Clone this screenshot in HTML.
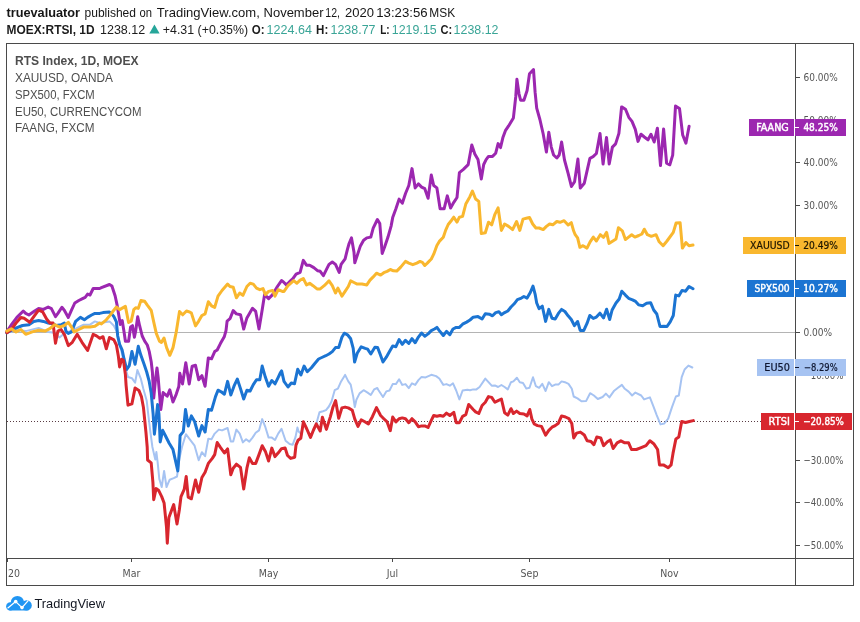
<!DOCTYPE html><html><head><meta charset="utf-8"><title>MOEX:RTSI chart</title><style>
html,body{margin:0;padding:0;background:#fff;width:860px;height:622px;overflow:hidden}
svg{position:absolute;left:0;top:0;display:block}
text{white-space:pre}
</style></head><body>
<svg width="860" height="622" viewBox="0 0 860 622">
<rect x="0" y="0" width="860" height="622" fill="#fff"/>
<text x="6.5" y="17" font-family='"Liberation Sans", Arial, sans-serif' font-size="12.2" font-weight="bold" fill="#161616" text-anchor="start" textLength="73.5" lengthAdjust="spacingAndGlyphs">truevaluator</text>
<text x="84.5" y="17" font-family='"Liberation Sans", Arial, sans-serif' font-size="12.2" font-weight="normal" fill="#161616" text-anchor="start" textLength="51.5" lengthAdjust="spacingAndGlyphs">published</text>
<text x="139.5" y="17" font-family='"Liberation Sans", Arial, sans-serif' font-size="12.2" font-weight="normal" fill="#161616" text-anchor="start" textLength="12.5" lengthAdjust="spacingAndGlyphs">on</text>
<text x="156.8" y="17" font-family='"Liberation Sans", Arial, sans-serif' font-size="12.2" font-weight="normal" fill="#161616" text-anchor="start" textLength="103.0" lengthAdjust="spacingAndGlyphs">TradingView.com,</text>
<text x="263.5" y="17" font-family='"Liberation Sans", Arial, sans-serif' font-size="12.2" font-weight="normal" fill="#161616" text-anchor="start" textLength="60.0" lengthAdjust="spacingAndGlyphs">November</text>
<text x="325.3" y="17" font-family='"Liberation Sans", Arial, sans-serif' font-size="12.2" font-weight="normal" fill="#161616" text-anchor="start" textLength="14.6" lengthAdjust="spacingAndGlyphs">12,</text>
<text x="345.0" y="17" font-family='"Liberation Sans", Arial, sans-serif' font-size="12.2" font-weight="normal" fill="#161616" text-anchor="start" textLength="29.0" lengthAdjust="spacingAndGlyphs">2020</text>
<text x="376.3" y="17" font-family='"Liberation Sans", Arial, sans-serif' font-size="12.2" font-weight="normal" fill="#161616" text-anchor="start" textLength="51.3" lengthAdjust="spacingAndGlyphs">13:23:56</text>
<text x="429.3" y="17" font-family='"Liberation Sans", Arial, sans-serif' font-size="12.2" font-weight="normal" fill="#161616" text-anchor="start" textLength="25.8" lengthAdjust="spacingAndGlyphs">MSK</text>
<text x="6.5" y="34" font-family='"Liberation Sans", Arial, sans-serif' font-size="12.2" font-weight="bold" fill="#1c1c1c" text-anchor="start" textLength="88" lengthAdjust="spacingAndGlyphs">MOEX:RTSI, 1D</text>
<text x="100" y="34" font-family='"Liberation Sans", Arial, sans-serif' font-size="12.2" font-weight="normal" fill="#1c1c1c" text-anchor="start" textLength="45.2" lengthAdjust="spacingAndGlyphs">1238.12</text>
<polygon points="149.3,33.4 159.6,33.4 154.45,24.4" fill="#26a69a"/>
<text x="162.8" y="34" font-family='"Liberation Sans", Arial, sans-serif' font-size="12.2" font-weight="normal" fill="#1c1c1c" text-anchor="start" textLength="85.3" lengthAdjust="spacingAndGlyphs">+4.31 (+0.35%)</text>
<text x="251.7" y="34" font-family='"Liberation Sans", Arial, sans-serif' font-size="12.2" font-weight="bold" fill="#1c1c1c" text-anchor="start" textLength="12.8" lengthAdjust="spacingAndGlyphs">O:</text>
<text x="266.6" y="34" font-family='"Liberation Sans", Arial, sans-serif' font-size="12.2" font-weight="normal" fill="#3aa597" text-anchor="start" textLength="45.3" lengthAdjust="spacingAndGlyphs">1224.64</text>
<text x="316.1" y="34" font-family='"Liberation Sans", Arial, sans-serif' font-size="12.2" font-weight="bold" fill="#1c1c1c" text-anchor="start" textLength="12.2" lengthAdjust="spacingAndGlyphs">H:</text>
<text x="330.5" y="34" font-family='"Liberation Sans", Arial, sans-serif' font-size="12.2" font-weight="normal" fill="#3aa597" text-anchor="start" textLength="45" lengthAdjust="spacingAndGlyphs">1238.77</text>
<text x="380.3" y="34" font-family='"Liberation Sans", Arial, sans-serif' font-size="12.2" font-weight="bold" fill="#1c1c1c" text-anchor="start" textLength="9.4" lengthAdjust="spacingAndGlyphs">L:</text>
<text x="391.8" y="34" font-family='"Liberation Sans", Arial, sans-serif' font-size="12.2" font-weight="normal" fill="#3aa597" text-anchor="start" textLength="44.9" lengthAdjust="spacingAndGlyphs">1219.15</text>
<text x="440.5" y="34" font-family='"Liberation Sans", Arial, sans-serif' font-size="12.2" font-weight="bold" fill="#1c1c1c" text-anchor="start" textLength="11.7" lengthAdjust="spacingAndGlyphs">C:</text>
<text x="453.6" y="34" font-family='"Liberation Sans", Arial, sans-serif' font-size="12.2" font-weight="normal" fill="#3aa597" text-anchor="start" textLength="44.9" lengthAdjust="spacingAndGlyphs">1238.12</text>
<g fill="none" stroke="#4a4a4a" stroke-width="1" shape-rendering="crispEdges">
<rect x="6.5" y="43.5" width="847" height="542"/>
<line x1="795.5" y1="43" x2="795.5" y2="586"/>
<line x1="6" y1="558.5" x2="854" y2="558.5"/>
</g>
<line x1="7" y1="332.5" x2="795" y2="332.5" stroke="#b4b4b4" stroke-width="1" shape-rendering="crispEdges"/>
<line x1="7" y1="421.5" x2="761" y2="421.5" stroke="#5a3c44" stroke-width="1" stroke-dasharray="1 2" shape-rendering="crispEdges"/>
<g stroke="#4a4a4a" stroke-width="1" shape-rendering="crispEdges">
<line x1="796" y1="77.5" x2="800" y2="77.5"/>
<line x1="796" y1="120.5" x2="800" y2="120.5"/>
<line x1="796" y1="162.5" x2="800" y2="162.5"/>
<line x1="796" y1="205.5" x2="800" y2="205.5"/>
<line x1="796" y1="247.5" x2="800" y2="247.5"/>
<line x1="796" y1="290.5" x2="800" y2="290.5"/>
<line x1="796" y1="332.5" x2="800" y2="332.5"/>
<line x1="796" y1="375.5" x2="800" y2="375.5"/>
<line x1="796" y1="417.5" x2="800" y2="417.5"/>
<line x1="796" y1="460.5" x2="800" y2="460.5"/>
<line x1="796" y1="502.5" x2="800" y2="502.5"/>
<line x1="796" y1="545.5" x2="800" y2="545.5"/>
</g>
<text x="803.5" y="80.9" font-family='"DejaVu Sans Condensed", "DejaVu Sans", sans-serif' font-size="10.5" font-weight="normal" fill="#555" text-anchor="start" textLength="34.2" lengthAdjust="spacingAndGlyphs">60.00%</text>
<text x="803.5" y="123.5" font-family='"DejaVu Sans Condensed", "DejaVu Sans", sans-serif' font-size="10.5" font-weight="normal" fill="#555" text-anchor="start" textLength="34.2" lengthAdjust="spacingAndGlyphs">50.00%</text>
<text x="803.5" y="166.0" font-family='"DejaVu Sans Condensed", "DejaVu Sans", sans-serif' font-size="10.5" font-weight="normal" fill="#555" text-anchor="start" textLength="34.2" lengthAdjust="spacingAndGlyphs">40.00%</text>
<text x="803.5" y="208.6" font-family='"DejaVu Sans Condensed", "DejaVu Sans", sans-serif' font-size="10.5" font-weight="normal" fill="#555" text-anchor="start" textLength="34.2" lengthAdjust="spacingAndGlyphs">30.00%</text>
<text x="803.5" y="251.1" font-family='"DejaVu Sans Condensed", "DejaVu Sans", sans-serif' font-size="10.5" font-weight="normal" fill="#555" text-anchor="start" textLength="34.2" lengthAdjust="spacingAndGlyphs">20.00%</text>
<text x="803.5" y="293.7" font-family='"DejaVu Sans Condensed", "DejaVu Sans", sans-serif' font-size="10.5" font-weight="normal" fill="#555" text-anchor="start" textLength="34.2" lengthAdjust="spacingAndGlyphs">10.00%</text>
<text x="803.5" y="336.2" font-family='"DejaVu Sans Condensed", "DejaVu Sans", sans-serif' font-size="10.5" font-weight="normal" fill="#555" text-anchor="start" textLength="28.7" lengthAdjust="spacingAndGlyphs">0.00%</text>
<text x="803.5" y="378.7" font-family='"DejaVu Sans Condensed", "DejaVu Sans", sans-serif' font-size="10.5" font-weight="normal" fill="#555" text-anchor="start" textLength="39.9" lengthAdjust="spacingAndGlyphs">−10.00%</text>
<text x="803.5" y="421.3" font-family='"DejaVu Sans Condensed", "DejaVu Sans", sans-serif' font-size="10.5" font-weight="normal" fill="#555" text-anchor="start" textLength="39.9" lengthAdjust="spacingAndGlyphs">−20.00%</text>
<text x="803.5" y="463.8" font-family='"DejaVu Sans Condensed", "DejaVu Sans", sans-serif' font-size="10.5" font-weight="normal" fill="#555" text-anchor="start" textLength="39.9" lengthAdjust="spacingAndGlyphs">−30.00%</text>
<text x="803.5" y="506.4" font-family='"DejaVu Sans Condensed", "DejaVu Sans", sans-serif' font-size="10.5" font-weight="normal" fill="#555" text-anchor="start" textLength="39.9" lengthAdjust="spacingAndGlyphs">−40.00%</text>
<text x="803.5" y="548.9" font-family='"DejaVu Sans Condensed", "DejaVu Sans", sans-serif' font-size="10.5" font-weight="normal" fill="#555" text-anchor="start" textLength="39.9" lengthAdjust="spacingAndGlyphs">−50.00%</text>
<g stroke="#4a4a4a" stroke-width="1" shape-rendering="crispEdges">
<line x1="7.5" y1="559" x2="7.5" y2="562"/>
<line x1="131.5" y1="559" x2="131.5" y2="562"/>
<line x1="268.5" y1="559" x2="268.5" y2="562"/>
<line x1="392.5" y1="559" x2="392.5" y2="562"/>
<line x1="529.5" y1="559" x2="529.5" y2="562"/>
<line x1="669.5" y1="559" x2="669.5" y2="562"/>
</g>
<text x="14" y="577" font-family='"DejaVu Sans Condensed", "DejaVu Sans", sans-serif' font-size="10.5" font-weight="normal" fill="#555" text-anchor="middle">20</text>
<text x="131.5" y="577" font-family='"DejaVu Sans Condensed", "DejaVu Sans", sans-serif' font-size="10.5" font-weight="normal" fill="#555" text-anchor="middle">Mar</text>
<text x="268.5" y="577" font-family='"DejaVu Sans Condensed", "DejaVu Sans", sans-serif' font-size="10.5" font-weight="normal" fill="#555" text-anchor="middle">May</text>
<text x="392.5" y="577" font-family='"DejaVu Sans Condensed", "DejaVu Sans", sans-serif' font-size="10.5" font-weight="normal" fill="#555" text-anchor="middle">Jul</text>
<text x="529.5" y="577" font-family='"DejaVu Sans Condensed", "DejaVu Sans", sans-serif' font-size="10.5" font-weight="normal" fill="#555" text-anchor="middle">Sep</text>
<text x="669.5" y="577" font-family='"DejaVu Sans Condensed", "DejaVu Sans", sans-serif' font-size="10.5" font-weight="normal" fill="#555" text-anchor="middle">Nov</text>
<text x="15" y="64.5" font-family='"Liberation Sans", Arial, sans-serif' font-size="12.1" font-weight="bold" fill="#4e4e4e" text-anchor="start" textLength="123.5" lengthAdjust="spacingAndGlyphs">RTS Index, 1D, MOEX</text>
<text x="15" y="81.6" font-family='"Liberation Sans", Arial, sans-serif' font-size="12.1" font-weight="normal" fill="#4e4e4e" text-anchor="start" textLength="98" lengthAdjust="spacingAndGlyphs">XAUUSD, OANDA</text>
<text x="15" y="98.7" font-family='"Liberation Sans", Arial, sans-serif' font-size="12.1" font-weight="normal" fill="#4e4e4e" text-anchor="start" textLength="79.7" lengthAdjust="spacingAndGlyphs">SPX500, FXCM</text>
<text x="15" y="115.6" font-family='"Liberation Sans", Arial, sans-serif' font-size="12.1" font-weight="normal" fill="#4e4e4e" text-anchor="start" textLength="126.5" lengthAdjust="spacingAndGlyphs">EU50, CURRENCYCOM</text>
<text x="15" y="132.4" font-family='"Liberation Sans", Arial, sans-serif' font-size="12.1" font-weight="normal" fill="#4e4e4e" text-anchor="start" textLength="79.5" lengthAdjust="spacingAndGlyphs">FAANG, FXCM</text>
<g fill="none" stroke-linejoin="round" stroke-linecap="round">
<polyline points="6.8,331.9 12.0,323.9 16.9,317.4 23.3,311.0 25.7,313.4 28.9,315.0 34.6,311.0 38.6,308.6 43.4,309.4 48.2,307.0 51.4,308.6 55.5,316.6 57.9,313.4 61.9,307.3 64.3,310.2 68.3,317.4 71.5,310.2 74.8,303.0 78.8,300.5 82.0,298.9 85.2,297.3 87.6,294.1 90.0,295.0 93.2,288.5 99.7,288.5 101.4,287.7 109.5,284.5 111.9,286.0 115.1,295.7 117.1,305.1 118.4,312.9 120.3,324.4 122.2,320.6 124.1,332.2 125.4,341.2 128.6,341.2 130.6,327.0 132.5,325.7 134.4,337.3 135.7,330.9 137.7,316.7 139.6,325.7 142.2,336.0 144.7,341.2 147.3,345.0 149.2,351.4 151.2,361.7 152.4,372.0 153.7,398.0 155.7,377.6 157.0,368.0 158.2,378.0 160.8,409.5 163.1,392.6 167.2,396.2 169.8,389.8 173.0,402.0 176.2,394.3 178.8,386.6 179.8,373.3 182.5,384.0 185.8,362.8 189.2,384.0 192.2,366.1 195.5,365.3 198.7,379.7 201.9,375.7 205.1,386.2 208.3,358.0 211.5,358.8 214.7,351.6 217.2,350.0 220.4,343.6 224.4,336.4 226.0,330.7 227.1,321.1 230.0,318.7 233.2,310.6 236.4,313.9 240.5,314.7 243.7,329.1 246.9,317.9 252.5,308.2 255.7,311.4 259.0,329.1 262.2,309.8 264.6,294.6 268.6,298.6 272.6,294.6 277.4,286.5 281.5,280.6 283.2,281.7 286.4,284.9 289.6,281.7 292.9,278.7 296.1,274.2 300.1,272.4 303.3,260.4 306.5,265.2 309.7,265.2 313.8,267.6 317.8,270.8 320.2,271.3 323.4,275.7 326.6,269.2 329.0,264.4 332.3,262.0 335.5,264.4 339.2,272.4 341.1,264.4 345.1,258.8 347.5,249.1 349.1,243.5 351.5,237.9 354.0,252.3 354.8,262.8 357.2,255.6 360.4,245.9 363.6,240.3 366.8,237.9 370.8,237.1 373.2,228.2 377.4,219.5 379.8,223.5 382.2,253.4 384.6,247.0 387.9,237.3 391.1,226.1 392.7,217.6 395.9,208.8 399.1,199.1 402.3,203.2 405.5,193.5 408.8,185.5 412.0,168.6 415.2,187.9 418.4,183.9 421.6,187.1 424.8,188.7 428.1,198.3 431.3,175.0 433.7,185.5 436.9,187.9 440.1,208.8 444.1,208.8 447.3,195.9 450.6,208.0 453.8,202.3 457.0,197.5 459.4,172.6 463.4,169.4 468.2,164.6 471.8,145.0 474.8,154.0 478.0,159.6 481.3,178.9 483.7,164.5 486.1,159.6 488.5,156.4 492.5,156.4 495.7,153.2 498.1,143.6 500.5,147.6 503.0,137.2 505.4,130.7 508.6,125.9 513.4,117.9 515.8,96.2 516.9,79.3 519.0,93.8 520.6,100.2 523.9,100.2 527.1,90.5 529.5,73.7 533.5,69.6 535.1,92.2 536.7,108.2 539.9,119.5 543.2,134.0 546.4,152.0 548.8,132.3 551.2,146.8 553.6,155.0 556.8,158.0 559.2,155.0 561.6,142.0 564.5,160.0 568.2,173.6 571.4,186.5 574.6,181.6 577.9,159.1 580.3,188.1 584.3,183.2 587.5,168.8 589.9,158.3 593.1,156.7 596.4,153.5 600.0,133.4 603.1,164.0 606.5,137.4 609.2,164.0 612.4,147.1 615.6,143.9 618.9,133.4 621.6,106.9 625.5,109.3 628.8,117.3 632.0,121.4 635.3,129.4 638.0,141.4 641.0,134.2 644.3,137.0 648.0,139.8 651.0,134.2 654.2,142.0 657.4,128.2 660.5,165.6 663.6,129.0 666.6,163.2 669.8,164.8 672.7,155.1 675.5,106.1 679.5,108.5 682.7,135.0 685.9,143.1 689.1,126.2" stroke="#9c27b0" stroke-width="3"/>
<polyline points="6.8,332.7 16.0,330.0 25.7,331.1 38.6,327.9 48.2,332.0 54.7,332.7 59.5,337.5 64.3,333.5 70.7,331.0 77.2,327.9 83.6,324.7 90.0,324.7 94.9,321.4 99.7,323.0 109.5,321.4 113.9,325.7 117.0,332.0 120.0,345.0 123.0,358.0 126.0,370.0 128.0,377.0 131.9,378.2 135.1,382.7 137.4,370.0 140.9,378.9 143.4,389.1 146.7,400.7 148.6,417.4 150.5,432.9 152.4,447.0 155.3,459.6 156.4,452.0 157.7,462.9 159.3,478.9 161.7,487.0 164.1,470.9 166.5,487.0 169.7,479.7 173.7,478.1 177.0,476.5 179.5,458.0 182.0,447.0 185.9,434.2 189.8,439.3 194.6,445.7 198.7,460.2 201.9,452.2 205.1,456.2 208.3,438.8 211.5,439.2 214.7,433.6 218.8,429.6 222.0,430.4 227.6,428.0 230.8,441.6 233.2,441.6 236.4,429.6 239.7,433.6 242.9,442.4 246.1,439.2 249.3,441.6 252.5,437.6 255.7,432.8 259.0,430.4 262.2,419.1 265.4,427.2 268.6,437.6 271.8,437.6 275.0,440.0 278.2,433.6 281.5,428.8 285.6,440.8 289.6,444.0 292.7,444.7 295.5,437.1 297.4,427.6 298.6,431.5 301.3,434.0 303.4,421.8 306.8,429.0 310.5,437.4 313.5,430.0 316.3,423.9 317.5,419.5 319.5,412.3 323.0,411.2 326.0,410.1 328.9,406.5 331.5,401.5 334.7,390.2 337.9,388.6 341.1,381.4 345.1,374.9 348.3,381.4 350.7,384.6 353.2,396.6 354.8,407.1 356.4,399.8 359.6,393.4 363.6,390.2 367.6,392.6 370.8,395.0 374.1,389.4 377.3,388.0 378.2,389.7 383.0,397.0 386.3,391.4 389.5,390.5 392.7,384.1 395.9,384.1 399.1,379.3 402.3,384.9 405.5,384.1 408.8,388.1 412.0,383.3 415.2,384.9 418.4,380.1 421.6,376.9 425.6,377.4 431.3,374.8 436.1,376.1 439.3,378.5 443.3,384.9 446.5,384.1 449.8,385.7 453.0,383.3 456.2,390.5 459.4,399.4 462.6,390.5 467.4,389.7 470.0,390.2 473.2,389.4 476.4,389.4 479.6,387.0 485.3,378.6 488.5,382.2 491.7,385.7 494.9,385.4 498.1,387.0 501.4,385.0 504.6,387.0 507.8,389.4 511.0,382.2 513.4,381.4 516.9,377.7 519.8,382.2 523.0,383.0 526.3,388.6 529.5,387.8 533.0,377.3 535.9,386.2 539.1,387.8 542.3,383.8 545.6,391.0 548.8,382.2 552.0,386.2 555.2,384.6 558.4,384.6 561.6,381.4 564.9,382.2 568.5,383.9 571.8,388.8 573.7,396.5 577.5,398.4 581.4,401.3 586.2,400.9 590.1,393.2 593.9,395.5 597.8,399.0 602.6,397.0 605.9,393.6 609.4,397.4 614.2,390.7 618.0,387.8 621.9,384.9 624.8,388.8 628.6,391.6 632.1,395.5 635.4,392.6 641.2,395.5 644.1,399.4 649.9,397.4 653.7,407.1 656.6,414.8 660.5,424.4 664.3,423.5 668.2,418.6 672.0,407.1 675.9,396.5 678.8,395.5 681.7,377.2 684.6,369.5 688.4,365.6 692.3,367.5" stroke="#a6c3f2" stroke-width="2"/>
<polyline points="6.8,332.7 14.5,328.7 22.5,325.5 28.9,324.7 33.8,321.4 38.6,320.6 43.4,321.4 48.2,323.0 53.0,323.9 56.3,325.5 61.1,324.7 64.3,323.0 65.9,331.1 68.3,333.5 71.5,331.9 75.6,321.4 80.4,317.4 84.4,319.8 87.6,317.4 91.6,315.0 94.9,313.4 99.7,313.4 103.0,312.6 109.5,312.1 112.7,315.0 113.9,316.7 116.4,321.9 117.7,336.0 119.6,344.4 122.2,350.2 124.1,359.2 126.7,369.5 129.3,365.6 131.9,351.4 135.1,364.3 138.3,346.3 140.9,355.3 144.1,364.3 146.7,372.0 149.2,381.4 151.2,393.0 153.1,413.6 154.4,434.2 156.3,417.4 157.6,404.6 158.9,413.6 160.2,441.9 162.7,430.3 165.3,435.5 169.2,443.2 173.0,449.6 177.8,470.9 179.4,450.0 180.1,435.5 183.3,431.6 185.5,409.6 188.3,426.0 191.4,415.9 194.6,421.5 198.7,436.0 201.9,425.6 205.1,432.0 208.3,409.5 211.5,410.3 215.5,396.6 218.0,390.2 221.2,391.8 224.4,394.2 227.6,381.4 230.8,395.0 234.0,386.2 237.3,379.0 240.5,388.6 243.7,399.0 246.9,390.2 250.1,391.0 253.3,384.6 256.5,379.7 259.8,379.7 262.2,366.1 265.4,377.3 268.6,386.2 271.8,380.5 275.0,383.8 278.2,377.3 280.5,372.5 281.6,370.9 284.0,381.4 288.0,387.0 291.3,383.0 294.5,383.8 297.7,369.3 300.9,374.9 304.1,366.1 307.3,371.7 311.4,367.7 314.6,363.7 318.6,359.0 321.8,357.5 325.8,355.7 329.0,354.0 332.3,351.6 335.5,347.6 338.7,347.6 341.9,337.2 344.3,333.2 347.5,334.8 350.7,338.8 353.2,348.4 354.6,362.0 357.2,353.2 361.2,346.8 365.2,348.4 367.6,349.2 370.8,354.0 374.9,347.2 377.6,347.5 379.8,353.2 383.0,362.0 386.3,357.2 389.5,351.5 392.7,345.9 395.9,346.7 399.1,339.5 402.3,344.3 405.5,340.3 408.8,343.5 412.0,338.7 415.2,342.7 418.4,337.1 421.6,333.0 424.8,336.3 428.1,333.9 431.3,330.6 434.5,329.0 436.9,327.4 439.3,330.6 443.3,335.5 446.5,331.4 449.8,334.7 453.0,329.0 456.2,327.4 459.4,327.4 462.6,324.2 466.6,322.1 470.0,320.0 473.2,317.2 478.0,316.6 482.1,319.0 485.3,313.7 489.3,314.2 492.5,315.8 495.7,312.6 498.9,311.8 501.4,314.7 504.6,312.6 507.8,311.0 511.0,307.0 514.2,303.8 517.4,299.7 521.4,298.1 523.9,296.5 527.1,298.1 530.3,292.5 533.0,286.1 535.1,294.1 536.7,303.0 539.1,308.6 542.3,306.2 545.6,321.4 548.8,309.4 552.0,318.2 555.2,319.0 558.4,313.4 561.6,309.4 564.9,311.5 568.1,315.8 571.3,319.5 574.4,325.7 577.6,321.5 580.2,330.4 583.8,330.4 587.0,323.4 589.8,315.5 593.3,318.4 596.4,317.1 599.9,313.2 603.5,317.9 606.6,309.2 609.7,319.5 612.1,310.0 616.0,303.0 619.2,299.0 621.8,291.2 625.4,295.1 628.6,298.3 632.5,299.8 635.6,301.4 638.8,304.9 642.7,305.8 646.6,303.3 650.6,302.7 653.7,310.0 656.8,314.0 660.0,326.5 663.9,326.2 667.0,326.5 670.2,321.8 673.3,315.5 675.7,295.1 678.8,295.9 682.0,290.4 685.6,291.2 689.0,286.5 693.0,288.8" stroke="#1b74d2" stroke-width="3"/>
<polyline points="6.8,332.7 11.3,329.5 16.0,323.0 20.9,317.4 24.1,318.2 29.7,322.3 33.8,316.6 38.6,310.2 42.6,311.8 46.6,319.0 49.8,323.0 53.0,323.0 55.5,343.2 57.9,331.0 61.1,329.5 64.3,334.3 68.3,345.6 72.3,342.3 77.2,334.3 82.0,342.3 87.6,350.4 93.2,334.3 96.5,335.9 99.8,338.3 103.0,336.7 106.3,348.8 109.5,337.5 113.9,339.9 116.4,345.0 118.4,356.6 119.6,366.9 121.6,359.2 123.5,360.5 125.4,374.6 126.1,385.3 128.0,405.2 131.9,403.9 135.1,387.9 138.9,390.4 141.5,396.9 143.4,407.2 144.7,420.0 146.0,432.9 147.2,447.0 147.6,460.0 151.2,462.9 152.9,482.1 153.7,499.8 156.1,488.6 158.5,490.2 161.7,496.6 164.1,503.0 166.5,527.1 167.3,543.2 168.9,517.5 171.3,511.0 173.7,504.6 177.0,523.9 179.4,509.4 181.0,496.6 184.2,489.4 186.2,476.4 188.2,497.2 191.4,498.8 195.5,480.0 198.7,492.3 201.9,477.5 205.1,472.3 208.3,463.4 212.3,458.4 214.7,454.6 217.2,442.5 220.4,447.3 224.4,453.0 227.6,448.9 230.8,474.7 233.2,468.2 236.4,464.2 240.5,467.4 243.7,489.1 246.9,468.2 249.3,457.8 252.5,463.4 255.7,463.4 259.0,454.6 262.2,445.7 265.4,451.4 268.6,461.0 271.8,448.1 275.0,456.6 278.3,452.8 281.5,448.7 285.1,447.9 287.5,455.5 290.7,458.4 294.7,457.2 296.0,445.1 298.0,440.3 300.8,438.3 302.4,428.2 303.4,421.8 306.8,429.0 310.5,437.4 313.5,430.0 316.3,423.9 320.2,431.0 322.4,417.2 326.4,429.4 330.4,416.6 333.0,407.0 335.6,400.6 338.7,418.3 341.9,407.9 345.1,407.1 348.3,407.9 352.3,410.3 354.8,419.1 358.0,426.4 361.2,419.9 364.4,421.5 368.4,424.0 372.4,416.7 376.5,407.6 380.6,415.5 383.8,418.7 387.1,421.9 390.3,430.7 392.7,417.1 395.9,421.9 399.1,418.7 402.3,417.9 405.5,418.7 408.8,422.7 412.0,418.7 415.2,421.9 418.4,426.7 421.6,425.9 424.8,425.9 428.1,427.5 431.3,420.3 433.7,415.5 436.9,416.3 440.1,415.5 443.3,416.3 446.5,413.1 449.8,415.5 453.8,412.3 456.2,422.7 459.4,422.7 462.6,416.3 465.8,414.7 468.7,404.5 473.2,409.5 475.6,411.9 478.8,413.5 482.1,405.5 485.3,402.3 488.5,396.6 491.7,397.4 494.9,402.3 498.1,400.6 501.4,399.0 504.6,412.7 507.8,415.1 511.0,408.7 513.4,413.5 516.6,411.1 519.8,413.5 523.9,414.0 527.1,415.9 529.8,409.5 531.9,419.1 534.3,424.0 537.5,425.6 541.5,426.4 545.6,435.2 548.8,430.4 552.0,427.2 555.2,425.6 558.4,423.2 561.6,415.9 565.5,417.0 568.9,418.6 571.8,423.5 573.7,437.9 576.6,433.1 580.4,432.1 584.3,435.0 587.2,440.8 591.0,441.4 593.9,444.7 596.8,437.0 600.7,437.9 603.6,445.6 607.4,441.8 610.3,439.9 613.2,448.5 617.1,442.8 620.9,440.8 624.8,442.8 628.6,442.8 631.5,449.5 636.4,449.5 641.2,447.6 646.0,445.6 649.9,440.8 653.7,443.7 657.6,449.5 659.5,464.9 663.4,464.9 668.2,467.8 671.1,464.9 673.0,453.4 675.9,438.9 678.8,437.0 681.7,421.5 685.5,422.5 689.4,421.5 693.3,420.6" stroke="#d8262e" stroke-width="3"/>
<polyline points="6.8,331.1 11.3,328.7 16.0,331.9 20.9,329.5 25.7,334.3 32.2,331.9 38.6,330.3 45.0,331.1 49.8,328.7 54.7,324.7 59.5,327.1 64.3,325.5 68.3,322.3 71.5,327.1 74.0,331.9 78.8,329.5 83.6,327.1 90.0,327.1 94.9,326.3 99.7,323.0 101.4,323.9 106.3,319.8 110.0,315.4 113.2,311.0 116.4,307.0 119.6,309.6 125.4,306.4 128.6,322.5 131.2,321.2 133.8,309.6 135.7,307.7 138.3,308.4 140.9,300.6 144.7,301.3 147.3,305.1 151.2,310.3 153.7,321.9 156.3,333.4 159.5,341.2 161.4,342.4 164.0,338.0 166.6,347.6 169.8,355.3 173.0,347.6 176.2,332.2 179.5,311.6 182.7,314.8 186.5,311.0 190.0,312.2 191.4,313.1 195.5,325.9 198.7,321.1 201.9,315.5 205.1,313.9 208.3,301.8 211.5,305.8 214.7,307.4 218.0,296.2 222.0,290.5 227.6,284.1 230.0,286.5 233.2,287.3 236.4,297.8 239.7,293.0 242.9,295.4 246.9,286.5 250.1,283.3 253.3,284.1 256.5,288.1 259.8,289.7 263.0,288.6 265.4,294.6 268.6,291.4 272.6,290.5 275.0,296.2 278.2,289.7 282.3,291.4 284.0,291.4 288.0,285.7 293.7,280.6 296.9,283.3 300.1,280.1 303.3,278.5 306.5,284.9 309.7,283.3 313.0,285.7 317.0,288.9 320.2,288.9 324.2,285.7 329.0,280.9 332.3,285.7 335.5,293.0 337.9,288.1 341.9,296.2 345.1,291.4 348.3,286.5 350.7,280.9 354.0,282.5 357.2,284.1 362.0,284.1 366.8,284.9 370.0,280.1 373.2,276.9 376.5,273.2 380.6,275.1 383.8,272.7 387.1,271.4 390.3,269.5 393.5,270.8 396.7,271.1 400.7,267.1 405.5,261.4 408.8,263.1 412.8,264.7 416.8,263.1 420.0,261.4 422.4,262.3 424.8,265.5 427.3,263.1 431.3,259.0 433.7,254.2 436.9,245.4 439.3,241.4 443.3,237.3 445.7,230.1 448.2,224.5 451.4,220.5 453.8,217.2 457.0,222.1 459.4,217.2 462.6,216.4 465.8,204.0 469.9,196.7 472.4,191.0 475.6,199.0 478.8,201.4 481.3,233.6 485.3,232.8 488.5,222.3 491.7,224.8 494.9,214.3 498.1,207.9 501.4,230.4 504.6,224.0 508.6,226.4 512.6,229.6 516.6,221.5 519.8,230.4 523.0,219.1 526.3,218.3 529.5,217.5 532.7,224.0 535.9,228.0 539.1,228.0 543.2,229.6 546.4,226.4 549.6,224.0 552.8,224.8 556.8,221.5 560.0,222.3 564.1,220.7 568.1,225.0 571.3,222.7 573.6,230.8 575.2,234.7 577.6,237.9 579.9,247.3 583.0,245.7 587.0,248.1 590.1,241.8 593.3,237.1 596.4,241.0 600.3,234.7 603.5,237.4 606.6,232.4 609.0,243.4 612.9,241.0 616.0,239.0 618.4,227.7 622.3,230.8 625.4,239.5 628.6,237.1 631.7,234.7 634.9,237.1 638.8,235.5 641.9,234.0 644.3,229.2 647.4,234.7 651.3,236.3 656.0,234.7 659.2,241.8 663.1,245.7 667.0,241.0 673.3,232.4 676.1,223.0 680.1,222.7 682.4,248.1 685.9,242.6 689.0,245.7 693.0,245.0" stroke="#f9b72e" stroke-width="3"/>
</g>
<rect x="749" y="119" width="45" height="17" fill="#9c27b0"/>
<rect x="794" y="119" width="1" height="17" fill="#fff"/>
<rect x="795" y="119" width="51" height="17" fill="#9c27b0"/>
<rect x="795" y="127" width="4" height="1" fill="#fff"/>
<text x="756.2" y="130.6" font-family='"DejaVu Sans Condensed", "DejaVu Sans", sans-serif' font-size="10" font-weight="normal" fill="#fff" text-anchor="start" textLength="32.6" lengthAdjust="spacingAndGlyphs" stroke="#fff" stroke-width="0.4">FAANG</text>
<text x="803.4" y="130.6" font-family='"DejaVu Sans Condensed", "DejaVu Sans", sans-serif' font-size="10" font-weight="normal" fill="#fff" text-anchor="start" textLength="34.3" lengthAdjust="spacingAndGlyphs" stroke="#fff" stroke-width="0.4">48.25%</text>
<rect x="743" y="237" width="51" height="17" fill="#f9b72e"/>
<rect x="794" y="237" width="1" height="17" fill="#fff"/>
<rect x="795" y="237" width="51" height="17" fill="#f9b72e"/>
<rect x="795" y="245" width="4" height="1" fill="#1e1600"/>
<text x="750.1" y="248.6" font-family='"DejaVu Sans Condensed", "DejaVu Sans", sans-serif' font-size="10" font-weight="normal" fill="#1e1600" text-anchor="start" textLength="39.6" lengthAdjust="spacingAndGlyphs" stroke="#1e1600" stroke-width="0.2">XAUUSD</text>
<text x="803.2" y="248.6" font-family='"DejaVu Sans Condensed", "DejaVu Sans", sans-serif' font-size="10" font-weight="normal" fill="#1e1600" text-anchor="start" textLength="34.7" lengthAdjust="spacingAndGlyphs" stroke="#1e1600" stroke-width="0.2">20.49%</text>
<rect x="747" y="280" width="47" height="17" fill="#1b74d2"/>
<rect x="794" y="280" width="1" height="17" fill="#fff"/>
<rect x="795" y="280" width="51" height="17" fill="#1b74d2"/>
<rect x="795" y="288" width="4" height="1" fill="#fff"/>
<text x="754.4" y="291.6" font-family='"DejaVu Sans Condensed", "DejaVu Sans", sans-serif' font-size="10" font-weight="normal" fill="#fff" text-anchor="start" textLength="35.3" lengthAdjust="spacingAndGlyphs" stroke="#fff" stroke-width="0.4">SPX500</text>
<text x="803.2" y="291.6" font-family='"DejaVu Sans Condensed", "DejaVu Sans", sans-serif' font-size="10" font-weight="normal" fill="#fff" text-anchor="start" textLength="34.7" lengthAdjust="spacingAndGlyphs" stroke="#fff" stroke-width="0.4">10.27%</text>
<rect x="757" y="359" width="37" height="17" fill="#a6c3f2"/>
<rect x="794" y="359" width="1" height="17" fill="#fff"/>
<rect x="795" y="359" width="51" height="17" fill="#a6c3f2"/>
<rect x="795" y="367" width="4" height="1" fill="#0e1630"/>
<text x="764.3" y="370.6" font-family='"DejaVu Sans Condensed", "DejaVu Sans", sans-serif' font-size="10" font-weight="normal" fill="#0e1630" text-anchor="start" textLength="25.6" lengthAdjust="spacingAndGlyphs" stroke="#0e1630" stroke-width="0.2">EU50</text>
<text x="804.0" y="370.6" font-family='"DejaVu Sans Condensed", "DejaVu Sans", sans-serif' font-size="10" font-weight="normal" fill="#0e1630" text-anchor="start" textLength="33.6" lengthAdjust="spacingAndGlyphs" stroke="#0e1630" stroke-width="0.2">−8.29%</text>
<rect x="761" y="413" width="33" height="17" fill="#d8262e"/>
<rect x="794" y="413" width="1" height="17" fill="#fff"/>
<rect x="795" y="413" width="57" height="17" fill="#d8262e"/>
<rect x="795" y="421" width="4" height="1" fill="#fff"/>
<text x="768.6" y="424.6" font-family='"DejaVu Sans Condensed", "DejaVu Sans", sans-serif' font-size="10" font-weight="normal" fill="#fff" text-anchor="start" textLength="21.2" lengthAdjust="spacingAndGlyphs" stroke="#fff" stroke-width="0.4">RTSI</text>
<text x="803.2" y="424.6" font-family='"DejaVu Sans Condensed", "DejaVu Sans", sans-serif' font-size="10" font-weight="normal" fill="#fff" text-anchor="start" textLength="40.6" lengthAdjust="spacingAndGlyphs" stroke="#fff" stroke-width="0.4">−20.85%</text>
<g fill="#2196f3">
<circle cx="10.3" cy="606.4" r="4.2"/>
<circle cx="17.4" cy="602.5" r="6.6"/>
<circle cx="26.6" cy="605.4" r="5.2"/>
<rect x="8.3" y="604" width="20.6" height="6.6" rx="2.2"/>
</g>
<polyline points="7.6,608.2 15.7,601.6 22,607.6 28.2,600.6" fill="none" stroke="#fff" stroke-width="1.3" stroke-linejoin="round"/>
<circle cx="15.7" cy="601.6" r="1.8" fill="#fff"/><circle cx="22" cy="607.6" r="1.8" fill="#fff"/>
<text x="34.5" y="607.8" font-family='"Liberation Sans", Arial, sans-serif' font-size="12.2" font-weight="normal" fill="#131722" text-anchor="start" textLength="70.5" lengthAdjust="spacingAndGlyphs">TradingView</text>
</svg></body></html>
